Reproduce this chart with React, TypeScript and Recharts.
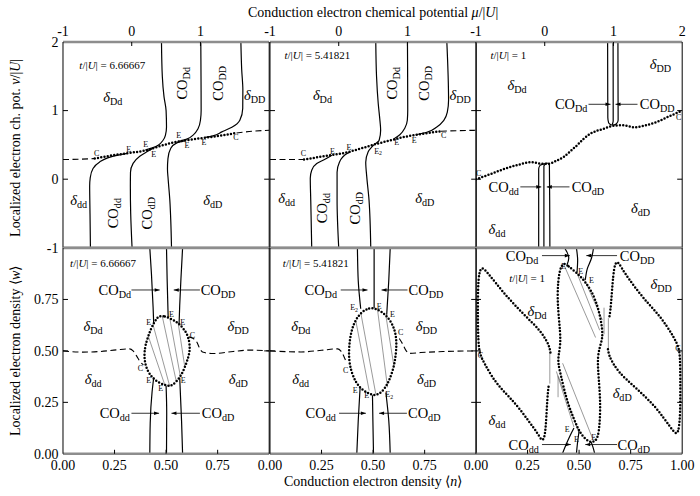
import React from 'react';
import { LineChart, Line, XAxis, YAxis, ReferenceDot, ReferenceLine, Label } from 'recharts';

type P = [number, number];

// ================= axis ticks =================
const muTicks = [-1, 0, 1, 2];
const nuTicks = [-1, 0, 1, 2];
const densTicks = [0, 0.25, 0.5, 0.75, 1];
const tValues = ['6.66667', '5.41821', '1'];

// ================= panel A : t/|U| = 6.66667 (mu, nu) =================
const aDashL: P[] = [[-1, 0.287], [-0.75, 0.291], [-0.538, 0.301]];
const aDot: P[] = [[-0.538, 0.301], [-0.272, 0.349], [-0.029, 0.383], [0.214, 0.422], [0.408, 0.481], [0.602, 0.534], [0.797, 0.568], [1.088, 0.607], [1.33, 0.641], [1.525, 0.674]];
const aDashR: P[] = [[1.525, 0.674], [1.75, 0.698], [2, 0.714]];
const aUp1: P[] = [[0.433, 2], [0.445, 1.5], [0.47, 1.2], [0.5, 1.0], [0.506, 0.76], [0.49, 0.64], [0.456, 0.568], [0.39, 0.5], [0.32, 0.463], [0.2, 0.428]];
const aUp2: P[] = [[1.005, 2], [1.008, 1.5], [1.01, 1.0], [1.0, 0.86], [0.966, 0.738], [0.9, 0.65], [0.8, 0.585], [0.67, 0.55]];
const aUp3: P[] = [[1.588, 2], [1.6, 1.6], [1.617, 1.3], [1.615, 1.03], [1.573, 0.86], [1.457, 0.757], [1.311, 0.69], [1.18, 0.632], [1.07, 0.61]];
const aLo1: P[] = [[-0.601, -1], [-0.607, -0.5], [-0.612, -0.1], [-0.604, 0.02], [-0.563, 0.156], [-0.466, 0.252], [-0.35, 0.31], [-0.2, 0.35], [-0.06, 0.377]];
const aLo2: P[] = [[0.005, -1], [-0.015, -0.5], [-0.02, -0.1], [-0.018, 0.1], [0.02, 0.23], [0.117, 0.335], [0.22, 0.4], [0.3, 0.446]];
const aLo3: P[] = [[0.579, -1], [0.568, -0.6], [0.554, -0.3], [0.53, 0.0], [0.52, 0.15], [0.527, 0.3], [0.568, 0.45], [0.656, 0.53], [0.785, 0.562]];
const aE: P[] = [[-0.043, 0.437], [0.204, 0.51], [0.321, 0.364], [0.685, 0.641], [0.802, 0.495], [1.049, 0.539]];
const aC: P[] = [[-0.509, 0.379], [1.515, 0.616]];

// ================= panel B : t/|U| = 5.41821 (mu, nu) =================
const bDashL: P[] = [[-1, 0.287], [-0.75, 0.287], [-0.505, 0.287]];
const bDot: P[] = [[-0.505, 0.287], [-0.214, 0.335], [0.078, 0.383], [0.321, 0.447], [0.515, 0.505], [0.758, 0.568], [1.001, 0.626], [1.243, 0.666], [1.486, 0.699]];
const bDashR: P[] = [[1.486, 0.699], [1.75, 0.708], [2, 0.713]];
const bUp1: P[] = [[0.539, 2], [0.55, 1.5], [0.575, 1.1], [0.6, 0.85], [0.61, 0.714], [0.588, 0.568], [0.515, 0.505]];
const bUp2: P[] = [[1.0, 2], [1.004, 1.005], [0.998, 0.859], [0.961, 0.743], [0.889, 0.648], [0.8, 0.585]];
const bUp3: P[] = [[1.573, 2], [1.598, 1.15], [1.58, 0.976], [1.529, 0.859], [1.427, 0.762], [1.281, 0.684], [1.12, 0.648]];
const bLo1: P[] = [[-0.393, -1], [-0.407, -0.306], [-0.414, 0.015], [-0.393, 0.131], [-0.32, 0.229], [-0.2, 0.29], [-0.1, 0.35]];
const bLo2: P[] = [[0, -1], [-0.024, -0.306], [-0.024, 0.102], [0.01, 0.248], [0.122, 0.374], [0.17, 0.398]];
const bLo3: P[] = [[0.466, -1], [0.441, -0.306], [0.408, 0.034], [0.393, 0.248], [0.427, 0.398], [0.515, 0.505]];
const bE: P[] = [[-0.091, 0.412], [0.15, 0.47], [0.845, 0.534], [1.097, 0.568]];
const bE2: P[] = [[0.573, 0.412]];
const bC: P[] = [[-0.514, 0.374], [1.525, 0.641]];

// ================= panel C : t/|U| = 1 (mu, nu) =================
const cDot: P[] = [[-1, 0], [-0.792, 0.073], [-0.598, 0.146], [-0.355, 0.218], [-0.195, 0.25], [-0.049, 0.226], [0.053, 0.226], [0.169, 0.269], [0.276, 0.325], [0.373, 0.408], [0.471, 0.495], [0.567, 0.59], [0.664, 0.663], [0.858, 0.735], [1.004, 0.779], [1.149, 0.786], [1.295, 0.757], [1.441, 0.779], [1.636, 0.837], [1.829, 0.925], [2, 0.998]];
const cU1: P[] = [[0.915, 2], [0.917, 1.2], [0.918, 0.9], [0.93, 0.82], [0.975, 0.786]];
const cU2: P[] = [[0.995, 2], [0.996, 1.2], [0.996, 0.85], [0.98, 0.79]];
const cU3: P[] = [[1.065, 2], [1.067, 1.2], [1.068, 0.86], [1.04, 0.805], [0.99, 0.786]];
const cD1: P[] = [[-0.088, -1], [-0.088, -0.3], [-0.088, 0.15], [-0.07, 0.2], [0.04, 0.235]];
const cD2: P[] = [[-0.012, -1], [-0.012, -0.3], [-0.012, 0.19], [0.04, 0.235]];
const cD3: P[] = [[0.075, -1], [0.072, -0.3], [0.068, 0.2], [0.05, 0.235]];
const cC: P[] = [[-0.962, 0.087], [1.95, 0.907]];

// ================= panel D : t/|U| = 6.66667 (n, w) =================
const dUL: P[] = [[0.421, 1], [0.429, 0.874], [0.437, 0.712], [0.44, 0.631]];
const dUM: P[] = [[0.502, 1], [0.505, 0.85], [0.51, 0.665]];
const dUR: P[] = [[0.58, 1], [0.572, 0.85], [0.566, 0.72], [0.563, 0.63]];
const dLL: P[] = [[0.421, 0], [0.423, 0.15], [0.432, 0.3], [0.44, 0.37]];
const dLM: P[] = [[0.502, 0], [0.503, 0.2], [0.5, 0.33]];
const dLR: P[] = [[0.58, 0], [0.575, 0.16], [0.566, 0.37]];
const dLoop: P[] = [[0.469, 0.671], [0.494, 0.668], [0.518, 0.658], [0.542, 0.647], [0.563, 0.631], [0.582, 0.611], [0.599, 0.587], [0.61, 0.558], [0.615, 0.525], [0.614, 0.493], [0.605, 0.461], [0.594, 0.428], [0.58, 0.396], [0.566, 0.371], [0.55, 0.351], [0.531, 0.334], [0.515, 0.328], [0.494, 0.334], [0.469, 0.344], [0.445, 0.36], [0.429, 0.376], [0.413, 0.399], [0.401, 0.428], [0.395, 0.461], [0.395, 0.496], [0.401, 0.533], [0.413, 0.57], [0.426, 0.606], [0.442, 0.638], [0.456, 0.66]];
const dTie1: P[] = [[0.413, 0.573], [0.494, 0.334]];
const dTie2: P[] = [[0.437, 0.626], [0.518, 0.327]];
const dTie3: P[] = [[0.482, 0.666], [0.55, 0.349]];
const dTie4: P[] = [[0.518, 0.658], [0.569, 0.378]];
const dTie5: P[] = [[0.558, 0.639], [0.591, 0.42]];
const dDashL: P[] = [[0, 0.5], [0.097, 0.494], [0.178, 0.497], [0.259, 0.505], [0.323, 0.51], [0.34, 0.5], [0.356, 0.477], [0.372, 0.45], [0.39, 0.432]];
const dDashR: P[] = [[0.61, 0.568], [0.632, 0.56], [0.648, 0.545], [0.664, 0.51], [0.68, 0.493], [0.728, 0.487], [0.825, 0.497], [0.906, 0.504], [1, 0.5]];
const dE: P[] = [[0.416, 0.639], [0.526, 0.676], [0.58, 0.639], [0.416, 0.359], [0.474, 0.318], [0.583, 0.359]];
const dC: P[] = [[0.628, 0.578], [0.376, 0.416]];

// ================= panel E : t/|U| = 5.41821 (n, w) =================
const eUL: P[] = [[0.424, 1], [0.428, 0.841], [0.44, 0.705]];
const eUM: P[] = [[0.505, 1], [0.505, 0.841], [0.505, 0.708]];
const eUR: P[] = [[0.583, 1], [0.576, 0.841], [0.566, 0.676]];
const eLL: P[] = [[0.421, 0], [0.428, 0.162], [0.437, 0.322]];
const eLM: P[] = [[0.502, 0], [0.499, 0.162], [0.497, 0.285]];
const eLR: P[] = [[0.583, 0], [0.576, 0.162], [0.562, 0.298]];
const eLoop: P[] = [[0.44, 0.687], [0.481, 0.711], [0.521, 0.704], [0.562, 0.676], [0.594, 0.631], [0.61, 0.583], [0.614, 0.534], [0.61, 0.477], [0.599, 0.413], [0.578, 0.356], [0.557, 0.316], [0.53, 0.291], [0.505, 0.283], [0.476, 0.294], [0.44, 0.316], [0.416, 0.348], [0.395, 0.396], [0.383, 0.453], [0.383, 0.518], [0.391, 0.583], [0.408, 0.639]];
const eTie1: P[] = [[0.416, 0.647], [0.481, 0.307]];
const eTie2: P[] = [[0.44, 0.687], [0.513, 0.291]];
const eTie3: P[] = [[0.521, 0.704], [0.57, 0.323]];
const eTie4: P[] = [[0.562, 0.671], [0.602, 0.42]];
const eDashL: P[] = [[0, 0.5], [0.15, 0.495], [0.25, 0.503], [0.328, 0.51], [0.343, 0.5], [0.359, 0.472], [0.372, 0.44]];
const eDashR: P[] = [[0.627, 0.56], [0.643, 0.534], [0.66, 0.501], [0.675, 0.488], [0.731, 0.492], [0.845, 0.497], [1, 0.5]];
const eE: P[] = [[0.529, 0.715], [0.594, 0.676], [0.413, 0.307], [0.469, 0.283]];
const eE2: P[] = [[0.408, 0.712], [0.578, 0.288]];
const eC: P[] = [[0.634, 0.59], [0.367, 0.408]];

// ================= panel F : t/|U| = 1 (n, w) =================
const fLoopL: P[] = [[0.361, 0.492], [0.356, 0.521], [0.339, 0.555], [0.31, 0.599], [0.268, 0.642], [0.222, 0.687], [0.176, 0.736], [0.133, 0.784], [0.094, 0.833], [0.06, 0.875], [0.034, 0.904], [0.021, 0.9], [0.011, 0.851], [0.009, 0.744], [0.009, 0.647], [0.011, 0.55], [0.017, 0.485], [0.042, 0.437], [0.074, 0.38], [0.115, 0.323], [0.163, 0.275], [0.212, 0.218], [0.26, 0.153], [0.301, 0.097], [0.319, 0.062], [0.332, 0.074], [0.339, 0.137], [0.344, 0.234], [0.349, 0.307], [0.354, 0.341]];
const fLoopR: P[] = [[0.64, 0.508], [0.646, 0.475], [0.664, 0.44], [0.69, 0.401], [0.73, 0.36], [0.778, 0.318], [0.826, 0.272], [0.872, 0.225], [0.91, 0.175], [0.942, 0.13], [0.968, 0.097], [0.98, 0.1], [0.989, 0.16], [0.991, 0.26], [0.991, 0.36], [0.99, 0.46], [0.985, 0.515], [0.96, 0.565], [0.926, 0.62], [0.885, 0.677], [0.837, 0.728], [0.79, 0.784], [0.742, 0.848], [0.705, 0.905], [0.688, 0.935], [0.674, 0.926], [0.665, 0.865], [0.658, 0.77], [0.652, 0.695], [0.646, 0.66]];
const fLoopM: P[] = [[0.424, 0.93], [0.447, 0.913], [0.487, 0.881], [0.527, 0.84], [0.56, 0.791], [0.584, 0.734], [0.6, 0.678], [0.612, 0.613], [0.614, 0.56], [0.6, 0.52], [0.59, 0.47], [0.592, 0.404], [0.6, 0.307], [0.603, 0.226], [0.6, 0.146], [0.592, 0.081], [0.576, 0.058], [0.551, 0.056], [0.519, 0.081], [0.495, 0.121], [0.471, 0.178], [0.446, 0.243], [0.425, 0.323], [0.41, 0.388], [0.398, 0.44], [0.4, 0.48], [0.41, 0.53], [0.408, 0.596], [0.4, 0.678], [0.395, 0.759], [0.398, 0.84], [0.408, 0.9]];
const fT1: P[] = [[0.43, 1], [0.45, 0.952], [0.442, 0.92]];
const fT2: P[] = [[0.487, 1], [0.493, 0.94], [0.49, 0.882]];
const fT3: P[] = [[0.57, 1], [0.56, 0.95], [0.54, 0.9], [0.53, 0.845]];
const fB1: P[] = [[0.419, 0], [0.435, 0.04], [0.455, 0.085], [0.475, 0.125]];
const fB2: P[] = [[0.487, 0], [0.492, 0.05], [0.5, 0.11]];
const fB3: P[] = [[0.576, 0], [0.568, 0.03], [0.558, 0.058]];
const fTies: P[][] = [
  [[0.43, 0.91], [0.58, 0.565]],
  [[0.487, 0.885], [0.6, 0.6]],
  [[0.52, 0.86], [0.613, 0.65]],
  [[0.621, 0.71], [0.621, 0.581]],
  [[0.39, 0.4], [0.475, 0.13]],
  [[0.4, 0.375], [0.5, 0.1]],
  [[0.42, 0.44], [0.565, 0.075]],
  [[0.398, 0.38], [0.398, 0.275]],
  [[0.358, 0.494], [0.358, 0.341]],
  [[0.642, 0.506], [0.642, 0.659]],
];
const fE: P[] = [[0.425, 0.913], [0.508, 0.885], [0.56, 0.843], [0.442, 0.121], [0.487, 0.069], [0.571, 0.081]];
const fC: P[] = [[0.021, 0.478], [0.979, 0.515]];

// ================= layout & style =================
const SERIF = "'Liberation Serif', 'Times New Roman', serif";
const PW = 206.2, PH = 205.8;
const COLX = [63.3, 269.5, 475.7];
const ROWY = [41.7, 247.5];
const ML = 62, MR = 22, MT = 42, MB = 46;
const AX = 1; // axis band thickness (must be > 0 for recharts to draw the axis)
const H_AXIS = { stroke: '#8d8d8d', strokeWidth: 2.4 };
const V_AXIS = { stroke: '#000', strokeWidth: 1 };

const xy = (a: P[]) => a.map(([x, y]) => ({ x, y }));

const solid = (k: string, d: P[]) => (
  <Line key={k} data={xy(d)} dataKey="y" type="monotoneY" stroke="#000" strokeWidth={1.2} dot={false} activeDot={false} isAnimationActive={false} />
);
const dotted = (k: string, d: P[], kind: 'monotoneX' | 'basis' | 'basisClosed') => (
  <Line key={k} data={xy(d)} dataKey="y" type={kind} stroke="#000" strokeWidth={2.5} strokeDasharray="0 3.3" strokeLinecap="round" dot={false} activeDot={false} isAnimationActive={false} />
);
const dashed = (k: string, d: P[]) => (
  <Line key={k} data={xy(d)} dataKey="y" type="monotoneX" stroke="#000" strokeWidth={1.1} strokeDasharray="6 3.5" dot={false} activeDot={false} isAnimationActive={false} />
);
const thin = (k: string, d: P[]) => (
  <Line key={k} data={xy(d)} dataKey="y" type="linear" stroke="#555" strokeWidth={0.6} dot={false} activeDot={false} isAnimationActive={false} />
);

const region = (k: string, x: number, y: number, main: string, sub: string, rot = false, size = 14.5) => (
  <ReferenceDot key={k} x={x} y={y} r={0} isFront shape={(p: any) => (
    <text x={p.cx} y={p.cy + 5} textAnchor="middle" fontFamily={SERIF} fontSize={size} fill="#000"
      transform={rot ? `rotate(-90 ${p.cx} ${p.cy})` : undefined}>
      <tspan fontStyle={main === 'δ' ? 'italic' : 'normal'}>{main}</tspan>
      <tspan fontSize={size * 0.7} dy={3}>{sub}</tspan>
    </text>
  )} />
);
const small = (k: string, pts: P[], txt: string, sub = '') => pts.map(([x, y], i) => (
  <ReferenceDot key={k + i} x={x} y={y} r={0} isFront shape={(p: any) => (
    <text x={p.cx} y={p.cy + 2.8} textAnchor="middle" fontFamily={SERIF} fontSize={8} fill="#000">
      {txt}{sub ? <tspan fontSize={5.8} dy={1.5}>{sub}</tspan> : null}
    </text>
  )} />
));
const tLabel = (k: string, x: number, y: number, val: string) => (
  <ReferenceDot key={k} x={x} y={y} r={0} isFront shape={(p: any) => (
    <text x={p.cx} y={p.cy + 3.5} textAnchor="middle" fontFamily={SERIF} fontSize={11} fill="#000">
      <tspan fontStyle="italic">t</tspan>/|<tspan fontStyle="italic">U</tspan>| = {val}
    </text>
  )} />
);
const arrow = (k: string, x1: number, x2: number, y: number) => [
  <ReferenceLine key={k + 'l'} segment={[{ x: x1, y }, { x: x2, y }]} stroke="#000" strokeWidth={0.8} />,
  <ReferenceDot key={k + 'h'} x={x2} y={y} r={0} isFront shape={(p: any) => {
    const d = x2 > x1 ? 1 : -1;
    return <path d={`M${p.cx},${p.cy} L${p.cx - 5 * d},${p.cy - 1.8} L${p.cx - 5 * d},${p.cy + 1.8} Z`} fill="#000" />;
  }} />,
];

function makeTick(orient: string, labelVals: number[], markVals: number[], fmt: (v: number) => string) {
  return (props: any) => {
    const { x, y, payload } = props;
    const v: number = payload.value;
    const hasL = labelVals.some((a) => Math.abs(a - v) < 1e-9);
    const hasM = markVals.some((a) => Math.abs(a - v) < 1e-9);
    const tp = { fontFamily: SERIF, fontSize: 14, fill: '#000' } as any;
    if (orient === 'left') {
      return (<g>
        {hasM && <line x1={x} y1={y} x2={x + 5} y2={y} stroke="#000" strokeWidth={1} />}
        {hasL && <text x={x - 4.5} y={y} dy="0.34em" textAnchor="end" {...tp}>{fmt(v)}</text>}
      </g>);
    }
    if (orient === 'right') {
      return (<g>{hasM && <line x1={x} y1={y} x2={x - 5} y2={y} stroke="#000" strokeWidth={1} />}</g>);
    }
    if (orient === 'top') {
      return (<g>
        {hasM && <line x1={x} y1={y} x2={x} y2={y + 4} stroke="#000" strokeWidth={1} />}
        {hasL && <text x={x} y={y - 5.5} textAnchor="middle" {...tp}>{fmt(v)}</text>}
      </g>);
    }
    return (<g>
      {hasM && <line x1={x} y1={y} x2={x} y2={y - 4} stroke="#000" strokeWidth={1} />}
      {hasL && <text x={x} y={y + 16} textAnchor="middle" {...tp}>{fmt(v)}</text>}
    </g>);
  };
}

const titleTop = (
  <Label content={(p: any) => {
    const vb = p.viewBox || {};
    return (<text x={vb.x + vb.width / 2} y={vb.y + (vb.height || 0) - 25} textAnchor="middle" fontFamily={SERIF} fontSize={14} fill="#000">
      Conduction electron chemical potential <tspan fontStyle="italic">μ</tspan>/|<tspan fontStyle="italic">U</tspan>|
    </text>);
  }} />
);
const titleBottom = (
  <Label content={(p: any) => {
    const vb = p.viewBox || {};
    return (<text x={vb.x + vb.width / 2} y={vb.y + 32.4} textAnchor="middle" fontFamily={SERIF} fontSize={14} fill="#000">
      Conduction electron density ⟨<tspan fontStyle="italic">n</tspan>⟩
    </text>);
  }} />
);
const yTitle = (kind: 'nu' | 'w') => (
  <Label content={(p: any) => {
    const vb = p.viewBox || {};
    const bx = vb.x + (vb.width || 0) - 43;
    const cy = vb.y + vb.height / 2 + (kind === 'nu' ? 3 : 0);
    return (<text x={bx} y={cy} transform={`rotate(-90 ${bx} ${cy})`} textAnchor="middle" fontFamily={SERIF} fontSize={14} fill="#000">
      {kind === 'nu'
        ? <>Localized electron ch. pot. <tspan fontStyle="italic">ν</tspan>/|<tspan fontStyle="italic">U</tspan>|</>
        : <>Localized electron density ⟨<tspan fontStyle="italic">w</tspan>⟩</>}
    </text>);
  }} />
);

function Panel(props: { col: number; row: number; xLabels: number[]; yLabels: number[]; xTitle?: any; yTitleEl?: any; children?: any }) {
  const { col, row, xLabels, yLabels, xTitle, yTitleEl, children } = props;
  const topRow = row === 0;
  const dom: [number, number] = topRow ? [-1, 2] : [0, 1];
  const xt = topRow ? muTicks : densTicks;
  const yt = topRow ? nuTicks : densTicks;
  const marks = topRow ? [0, 1] : [0.25, 0.5, 0.75];
  const fmt = topRow ? (v: number) => String(v) : (v: number) => v.toFixed(2);
  const xo = topRow ? 'top' : 'bottom';
  return (
    <div style={{ position: 'absolute', left: COLX[col] - ML, top: ROWY[row] - MT }}>
      <LineChart width={ML + PW + MR} height={MT + PH + MB} margin={{ top: MT - AX, right: MR - AX, bottom: MB - AX, left: ML - AX }}>
        <XAxis xAxisId={0} type="number" dataKey="x" domain={dom} allowDataOverflow orientation={xo as any} height={AX}
          ticks={xt} interval={0} tickSize={0} tickMargin={0} tickLine={false} axisLine={H_AXIS}
          tick={makeTick(xo, xLabels, marks, fmt)}>{xTitle}</XAxis>
        <XAxis xAxisId="b" type="number" dataKey="x" domain={dom} allowDataOverflow orientation={(topRow ? 'bottom' : 'top') as any} height={AX}
          tick={false} tickLine={false} axisLine={H_AXIS} />
        <YAxis yAxisId={0} type="number" dataKey="y" domain={dom} allowDataOverflow width={AX}
          ticks={yt} interval={0} tickSize={0} tickMargin={0} tickLine={false} axisLine={V_AXIS}
          tick={makeTick('left', yLabels, marks, fmt)}>{yTitleEl}</YAxis>
        <YAxis yAxisId="r" orientation="right" type="number" domain={dom} allowDataOverflow width={AX}
          ticks={yt} interval={0} tickSize={0} tickMargin={0} tickLine={false} axisLine={V_AXIS}
          tick={makeTick('right', [], marks, fmt)} />
        {children}
      </LineChart>
    </div>
  );
}

export default function App() {
  return (
    <div style={{ position: 'absolute', left: 0, top: 0, width: 700, height: 496, background: '#fff', fontFamily: SERIF }}>
      {/* ---------- top row ---------- */}
      <Panel col={0} row={0} xLabels={[-1, 0, 1]} yLabels={[-1, 0, 1, 2]} yTitleEl={yTitle('nu')}>
        {dashed('a1', aDashL)}{dotted('a2', aDot, 'monotoneX')}{dashed('a3', aDashR)}
        {solid('a4', aUp1)}{solid('a5', aUp2)}{solid('a6', aUp3)}
        {solid('a7', aLo1)}{solid('a8', aLo2)}{solid('a9', aLo3)}
        {tLabel('at', -0.283, 1.66, tValues[0])}
        {region('ar1', -0.275, 1.194, 'δ', 'Dd')}
        {region('ar2', 0.731, 1.398, 'CO', 'Dd', true)}
        {region('ar3', 1.255, 1.398, 'CO', 'DD', true)}
        {region('ar4', 1.79, 1.223, 'δ', 'DD')}
        {region('ar5', -0.771, -0.306, 'δ', 'dd')}
        {region('ar6', -0.275, -0.495, 'CO', 'dd', true)}
        {region('ar7', 0.22, -0.495, 'CO', 'dD', true)}
        {region('ar8', 1.18, -0.306, 'δ', 'dD')}
        {small('aE', aE, 'E')}{small('aC', aC, 'C')}
      </Panel>
      <Panel col={1} row={0} xLabels={[-1, 0, 1]} yLabels={[]} xTitle={titleTop}>
        {dashed('b1', bDashL)}{dotted('b2', bDot, 'monotoneX')}{dashed('b3', bDashR)}
        {solid('b4', bUp1)}{solid('b5', bUp2)}{solid('b6', bUp3)}
        {solid('b7', bLo1)}{solid('b8', bLo2)}{solid('b9', bLo3)}
        {tLabel('bt', -0.31, 1.806, tValues[1])}
        {region('br1', -0.237, 1.223, 'δ', 'Dd')}
        {region('br2', 0.782, 1.398, 'CO', 'Dd', true)}
        {region('br3', 1.243, 1.398, 'CO', 'DD', true)}
        {region('br4', 1.767, 1.223, 'δ', 'DD')}
        {region('br5', -0.757, -0.277, 'δ', 'dd')}
        {region('br6', -0.237, -0.422, 'CO', 'dd', true)}
        {region('br7', 0.233, -0.422, 'CO', 'dD', true)}
        {region('br8', 1.253, -0.277, 'δ', 'dD')}
        {small('bE', bE, 'E')}{small('bE2', bE2, 'E', '2')}{small('bC', bC, 'C')}
      </Panel>
      <Panel col={2} row={0} xLabels={[-1, 0, 1, 2]} yLabels={[]}>
        {dotted('c1', cDot, 'monotoneX')}
        {solid('c2', cU1)}{solid('c3', cU2)}{solid('c4', cU3)}
        {solid('c5', cD1)}{solid('c6', cD2)}{solid('c7', cD3)}
        {tLabel('ct', -0.53, 1.806, tValues[2])}
        {region('cr1', -0.403, 1.369, 'δ', 'Dd')}
        {region('cr2', 1.684, 1.675, 'δ', 'DD')}
        {region('cr3', 0.385, 1.092, 'CO', 'Dd')}
        {region('cr4', 1.636, 1.092, 'CO', 'DD')}
        {arrow('ca1', 0.637, 0.957, 1.092)}
        {arrow('ca2', 1.35, 1.03, 1.092)}
        {region('cr5', -0.598, -0.112, 'CO', 'dd')}
        {region('cr6', 0.628, -0.112, 'CO', 'dD')}
        {arrow('ca3', -0.355, -0.05, -0.112)}
        {arrow('ca4', 0.36, 0.03, -0.112)}
        {region('cr7', 1.393, -0.422, 'δ', 'dD')}
        {region('cr8', -0.694, -0.733, 'δ', 'dd')}
        {small('cC', cC, 'C')}
      </Panel>

      {/* ---------- bottom row ---------- */}
      <Panel col={0} row={1} xLabels={[0, 0.25, 0.5, 0.75]} yLabels={[0, 0.25, 0.5, 0.75]} yTitleEl={yTitle('w')}>
        {dashed('d1', dDashL)}{dashed('d2', dDashR)}
        {thin('dt1', dTie1)}{thin('dt2', dTie2)}{thin('dt3', dTie3)}{thin('dt4', dTie4)}{thin('dt5', dTie5)}
        {dotted('d3', dLoop, 'basisClosed')}
        {solid('d4', dUL)}{solid('d5', dUM)}{solid('d6', dUR)}
        {solid('d7', dLL)}{solid('d8', dLM)}{solid('d9', dLR)}
        {tLabel('dt', 0.194, 0.925, tValues[0])}
        {region('dr1', 0.251, 0.796, 'CO', 'Dd')}{arrow('da1', 0.332, 0.469, 0.796)}
        {region('dr2', 0.752, 0.796, 'CO', 'DD')}{arrow('da2', 0.664, 0.537, 0.796)}
        {region('dr3', 0.146, 0.623, 'δ', 'Dd')}
        {region('dr4', 0.85, 0.623, 'δ', 'DD')}
        {region('dr5', 0.146, 0.364, 'δ', 'dd')}
        {region('dr6', 0.85, 0.364, 'δ', 'dD')}
        {region('dr7', 0.251, 0.197, 'CO', 'dd')}{arrow('da3', 0.332, 0.466, 0.197)}
        {region('dr8', 0.752, 0.197, 'CO', 'dD')}{arrow('da4', 0.664, 0.526, 0.197)}
        {small('dE', dE, 'E')}{small('dC', dC, 'C')}
      </Panel>
      <Panel col={1} row={1} xLabels={[0, 0.25, 0.5, 0.75]} yLabels={[]} xTitle={titleBottom}>
        {dashed('e1', eDashL)}{dashed('e2', eDashR)}
        {thin('et1', eTie1)}{thin('et2', eTie2)}{thin('et3', eTie3)}{thin('et4', eTie4)}
        {dotted('e3', eLoop, 'basisClosed')}
        {solid('e4', eUL)}{solid('e5', eUM)}{solid('e6', eUR)}
        {solid('e7', eLL)}{solid('e8', eLM)}{solid('e9', eLR)}
        {tLabel('et', 0.222, 0.925, tValues[1])}
        {region('er1', 0.246, 0.796, 'CO', 'Dd')}{arrow('ea1', 0.343, 0.473, 0.796)}
        {region('er2', 0.756, 0.796, 'CO', 'DD')}{arrow('ea2', 0.667, 0.541, 0.796)}
        {region('er3', 0.149, 0.623, 'δ', 'Dd')}
        {region('er4', 0.759, 0.623, 'δ', 'DD')}
        {region('er5', 0.149, 0.364, 'δ', 'dd')}
        {region('er6', 0.759, 0.364, 'δ', 'dD')}
        {region('er7', 0.246, 0.197, 'CO', 'dd')}{arrow('ea3', 0.335, 0.465, 0.197)}
        {region('er8', 0.748, 0.197, 'CO', 'dD')}{arrow('ea4', 0.664, 0.529, 0.197)}
        {small('eE', eE, 'E')}{small('eE2', eE2, 'E', '2')}{small('eC', eC, 'C')}
      </Panel>
      <Panel col={2} row={1} xLabels={[0, 0.25, 0.5, 0.75, 1]} yLabels={[]}>
        {fTies.map((t, i) => thin('ft' + i, t))}
        {dotted('f1', fLoopL, 'basis')}{dotted('f2', fLoopR, 'basis')}{dotted('f3', fLoopM, 'basisClosed')}
        {solid('f4', fT1)}{solid('f5', fT2)}{solid('f6', fT3)}
        {solid('f7', fB1)}{solid('f8', fB2)}{solid('f9', fB3)}
        {tLabel('ftl', 0.248, 0.85, tValues[2])}
        {region('fr1', 0.223, 0.963, 'CO', 'Dd')}{arrow('fa1', 0.32, 0.455, 0.963)}
        {region('fr2', 0.782, 0.963, 'CO', 'DD')}{arrow('fa2', 0.684, 0.535, 0.963)}
        {region('fr3', 0.898, 0.825, 'δ', 'DD')}
        {region('fr4', 0.296, 0.692, 'δ', 'Dd')}
        {region('fr5', 0.709, 0.294, 'δ', 'dD')}
        {region('fr6', 0.102, 0.162, 'δ', 'dd')}
        {region('fr7', 0.231, 0.045, 'CO', 'dd')}{arrow('fa3', 0.32, 0.46, 0.045)}
        {region('fr8', 0.765, 0.045, 'CO', 'dD')}{arrow('fa4', 0.684, 0.53, 0.045)}
        {small('fE', fE, 'E')}{small('fC', fC, 'C')}
      </Panel>
    </div>
  );
}
